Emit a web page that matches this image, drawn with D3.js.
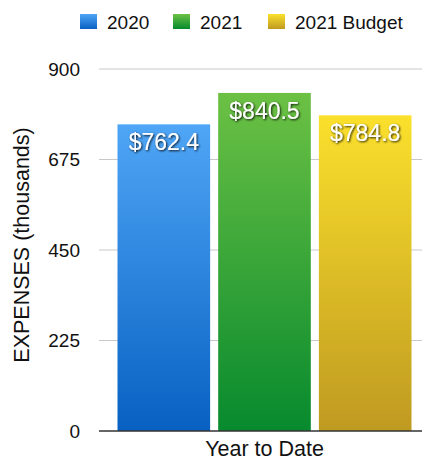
<!DOCTYPE html>
<html>
<head>
<meta charset="utf-8">
<script src="https://cdn.jsdelivr.net/npm/d3@7"></script>
<style>
  body { margin: 0; background: #fff; }
  text { font-family: "Liberation Sans", Arial, sans-serif; fill: #111; }
</style>
</head>
<body>
<svg id="chart"></svg>
<script>
var categories = ["Year to Date"];
var series = ["2020", "2021", "2021 Budget"];
var values = [762.4, 840.5, 784.8];
var yTicks = [0, 225, 450, 675, 900];
var colorsTop = ["#4fa6f6", "#6cc144", "#fbe02c"];
var colorsBottom = ["#0861c2", "#078a2e", "#bf9a21"];

var width = 422, height = 462;
var margin = {top: 69, right: 0, bottom: 31, left: 99};

var svg = d3.select("#chart")
  .attr("width", width)
  .attr("height", height);

var defs = svg.append("defs");
series.forEach(function(s, i) {
  var g = defs.append("linearGradient")
    .attr("id", "grad" + i)
    .attr("x1", 0).attr("y1", 0).attr("x2", 0).attr("y2", 1);
  g.append("stop").attr("offset", "0%").attr("stop-color", colorsTop[i]);
  g.append("stop").attr("offset", "100%").attr("stop-color", colorsBottom[i]);
});
var f = defs.append("filter").attr("id", "shadow")
  .attr("x", "-10%").attr("y", "-20%").attr("width", "130%").attr("height", "150%");
f.append("feDropShadow").attr("dx", 1).attr("dy", 1).attr("stdDeviation", 1)
  .attr("flood-color", "#000").attr("flood-opacity", 0.9);

var yScale = d3.scaleLinear().domain([0, 900]).range([height - margin.bottom, margin.top]);
var x0 = d3.scaleBand().domain(categories).range([117.5, 411.5]);
var x1 = d3.scaleBand().domain(series).range([0, x0.bandwidth()]).paddingInner(0.08);

// grid lines
svg.append("g")
  .selectAll("line")
  .data(yTicks.filter(function(d) { return d > 0; }))
  .enter().append("line")
  .attr("x1", margin.left).attr("x2", width)
  .attr("y1", function(d) { return yScale(d); })
  .attr("y2", function(d) { return yScale(d); })
  .attr("stroke", "#c8c8c8").attr("stroke-width", 1);

// tick labels
svg.append("g")
  .selectAll("text")
  .data(yTicks)
  .enter().append("text")
  .attr("x", 80)
  .attr("y", function(d) { return yScale(d); })
  .attr("dy", "0.35em")
  .attr("text-anchor", "end")
  .style("font-size", "19px")
  .text(function(d) { return d; });

// bars
var bars = svg.append("g")
  .selectAll("g")
  .data(categories)
  .enter().append("g")
  .attr("transform", function(d) { return "translate(" + x0(d) + ",0)"; });

bars.selectAll("rect")
  .data(series.map(function(s, i) { return {key: s, value: values[i], i: i}; }))
  .enter().append("rect")
  .attr("x", function(d) { return x1(d.key); })
  .attr("width", x1.bandwidth())
  .attr("y", function(d) { return yScale(d.value); })
  .attr("height", function(d) { return yScale(0) - yScale(d.value); })
  .attr("fill", function(d) { return "url(#grad" + d.i + ")"; });

bars.selectAll("text.val")
  .data(series.map(function(s, i) { return {key: s, value: values[i]}; }))
  .enter().append("text")
  .attr("class", "val")
  .attr("x", function(d) { return x1(d.key) + x1.bandwidth() / 2; })
  .attr("y", function(d) { return yScale(d.value) + 26; })
  .attr("text-anchor", "middle")
  .attr("filter", "url(#shadow)")
  .style("font-size", "23px")
  .style("fill", "#fff")
  .text(function(d) { return "$" + d.value.toFixed(1); });

// baseline
svg.append("line")
  .attr("x1", margin.left).attr("x2", width)
  .attr("y1", yScale(0)).attr("y2", yScale(0))
  .attr("stroke", "#333").attr("stroke-width", 1.5);

// x label
svg.append("text")
  .attr("x", x0("Year to Date") + x0.bandwidth() / 2)
  .attr("y", 456)
  .attr("text-anchor", "middle")
  .style("font-size", "21.5px")
  .text(categories[0]);

// y title
svg.append("text")
  .attr("transform", "translate(29," + 245 + ") rotate(-90)")
  .attr("text-anchor", "middle")
  .style("font-size", "21.5px")
  .text("EXPENSES (thousands)");

// legend
var legendX = [80, 173, 268];
var legend = svg.append("g")
  .selectAll("g")
  .data(series)
  .enter().append("g")
  .attr("transform", function(d, i) { return "translate(" + legendX[i] + ",14)"; });
legend.append("rect")
  .attr("width", 17).attr("height", 15)
  .attr("fill", function(d, i) { return "url(#grad" + i + ")"; });
legend.append("text")
  .attr("x", 27).attr("y", 8)
  .attr("dy", "0.35em")
  .style("font-size", "19px")
  .text(function(d) { return d; });
</script>
</body>
</html>
